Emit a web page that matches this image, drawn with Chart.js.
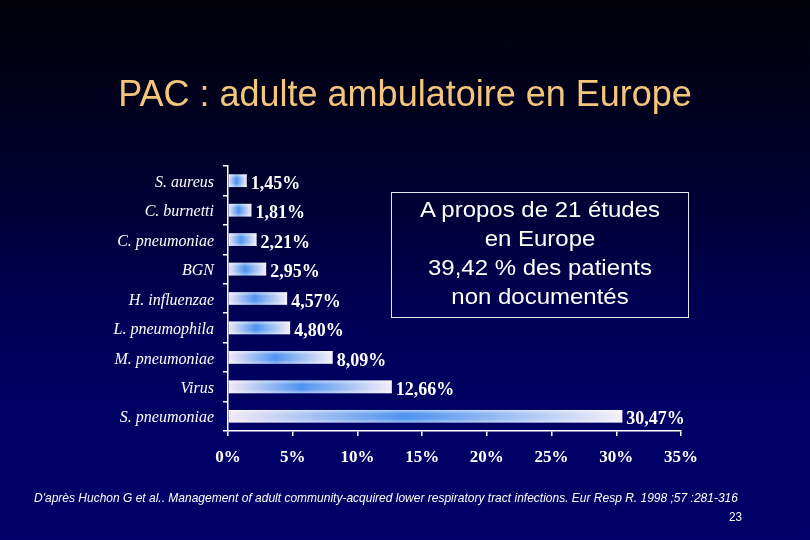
<!DOCTYPE html>
<html>
<head>
<meta charset="utf-8">
<script src="https://cdn.jsdelivr.net/npm/chart.js@4/dist/chart.umd.min.js"></script>
<style>
  html, body { margin: 0; padding: 0; }
  body {
    width: 810px; height: 540px; overflow: hidden; position: relative;
    background: linear-gradient(to bottom, #020208 0%, #00002a 30%, #000058 60%, #000066 80%, #000068 100%);
    font-family: "Liberation Sans", Arial, sans-serif;
  }
  #wrap { position: absolute; left: 0; top: 0; width: 810px; height: 540px; }
  #title {
    position: absolute; left: 0; width: 810px; top: 72px; text-align: center;
    color: #f4c67c; font-size: 36px; font-family: "Liberation Sans", Arial, sans-serif;
    line-height: 44px;
  }
  #box {
    position: absolute; left: 391px; top: 192px; width: 298px; height: 126px;
    border: 1px solid #e8e8f0; box-sizing: border-box;
  }
  #boxtext {
    position: absolute; left: 0; top: 2px; width: 296px; color: #ffffff; text-align: center;
    font-size: 22px; line-height: 29px; transform: scaleX(1.09); transform-origin: center top;
  }
  #foot {
    position: absolute; left: 34px; top: 490px; color: #ffffff; font-style: italic;
    font-size: 13px; font-family: "Liberation Sans Narrow", "Liberation Sans", Arial, sans-serif;
    white-space: nowrap; transform: scaleX(0.923); transform-origin: left top;
  }
  #page {
    position: absolute; left: 729px; top: 509px; color: #ffffff;
    font-size: 13px; font-family: "Liberation Sans Narrow", "Liberation Sans", Arial, sans-serif;
    transform: scaleX(0.9); transform-origin: left top;
  }
</style>
</head>
<body>
<div id="wrap"><canvas id="c" width="810" height="540"></canvas></div>
<div id="title">PAC : adulte ambulatoire en Europe</div>
<div id="box"><div id="boxtext">A propos de 21 études<br>en Europe<br>39,42 % des patients<br>non documentés</div></div>
<div id="foot">D'après Huchon G et al.. Management of adult community-acquired lower respiratory tract infections. Eur Resp R. 1998 ;57 :281-316</div>
<div id="page">23</div>
<script>
const categories = ["S. aureus", "C. burnetti", "C. pneumoniae", "BGN", "H. influenzae", "L. pneumophila", "M. pneumoniae", "Virus", "S. pneumoniae"];
const values = [1.45, 1.81, 2.21, 2.95, 4.57, 4.80, 8.09, 12.66, 30.47];
const xTicks = [0, 5, 10, 15, 20, 25, 30, 35];

function fmt(v) { return v.toFixed(2).replace('.', ',') + '%'; }

function barFill(context) {
  const chart = context.chart;
  if (!chart.chartArea || context.raw === undefined) return '#5a9ef0';
  const x0 = chart.scales.x.getPixelForValue(0);
  const x1 = chart.scales.x.getPixelForValue(context.raw);
  const g = chart.ctx.createLinearGradient(x0, 0, x1, 0);
  g.addColorStop(0, '#f4eaf6');
  g.addColorStop(0.45, '#4f94ee');
  g.addColorStop(1, '#f6eff9');
  return g;
}

const sheen = {
  id: 'sheen',
  afterDatasetsDraw(chart) {
    const ctx = chart.ctx;
    chart.getDatasetMeta(0).data.forEach(bar => {
      const h = bar.height, top = bar.y - h / 2;
      const left = Math.min(bar.x, bar.base), w = Math.abs(bar.x - bar.base);
      const g = ctx.createLinearGradient(0, top, 0, top + h);
      g.addColorStop(0, 'rgba(255,255,255,0.55)');
      g.addColorStop(0.3, 'rgba(255,255,255,0)');
      g.addColorStop(0.7, 'rgba(255,255,255,0)');
      g.addColorStop(1, 'rgba(255,255,255,0.45)');
      ctx.save(); ctx.fillStyle = g; ctx.fillRect(left, top, w, h); ctx.restore();
    });
  }
};

const valueLabels = {
  id: 'valueLabels',
  afterDatasetsDraw(chart) {
    const ctx = chart.ctx;
    ctx.save();
    ctx.fillStyle = '#ffffff';
    ctx.font = 'bold 18px "Liberation Serif", "Times New Roman", serif';
    ctx.textAlign = 'left';
    ctx.textBaseline = 'middle';
    chart.getDatasetMeta(0).data.forEach((bar, i) => {
      ctx.fillText(fmt(values[i]), bar.x + 4, bar.y + 3.5);
    });
    ctx.restore();
  }
};

new Chart(document.getElementById('c'), {
  type: 'bar',
  data: {
    labels: categories,
    datasets: [{
      data: values,
      backgroundColor: barFill,
      borderWidth: 0,
      categoryPercentage: 1,
      barPercentage: 0.43
    }]
  },
  options: {
    indexAxis: 'y',
    responsive: false,
    animation: false,
    devicePixelRatio: 1,
    layout: { padding: { top: 166, right: 129, bottom: 69, left: 0 } },
    plugins: { legend: { display: false }, tooltip: { enabled: false }, title: { display: false } },
    scales: {
      x: {
        min: 0, max: 35,
        afterBuildTicks(scale) { scale.ticks = xTicks.map(v => ({ value: v })); },
        afterFit(scale) { scale.height = 40; },
        border: { display: true, color: '#ffffff', width: 1.5 },
        grid: { display: true, drawOnChartArea: false, drawTicks: true, tickLength: 5, color: '#ffffff', lineWidth: 1.5 },
        ticks: {
          color: '#ffffff', padding: 11,
          font: { family: '"Liberation Serif", "Times New Roman", serif', size: 17, weight: 'bold' },
          callback: v => v + '%'
        }
      },
      y: {
        afterFit(scale) { scale.width = 228; },
        border: { display: true, color: '#ffffff', width: 1.5 },
        grid: { display: true, offset: true, drawOnChartArea: false, drawTicks: true, tickLength: 5, color: '#ffffff', lineWidth: 1.5 },
        ticks: {
          color: '#ffffff', padding: 9, labelOffset: 2,
          font: { family: '"Liberation Serif", "Times New Roman", serif', size: 16, style: 'italic' }
        }
      }
    }
  },
  plugins: [sheen, valueLabels]
});
</script>
</body>
</html>
